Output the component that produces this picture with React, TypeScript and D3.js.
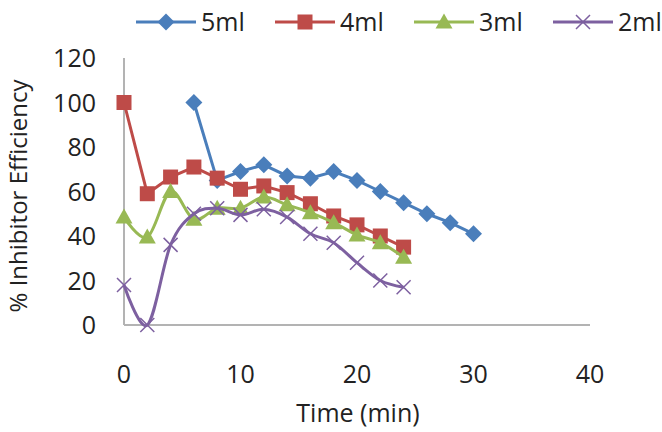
import { useRef, useEffect } from "react";
import * as d3 from "d3";

const time5 = [6, 8, 10, 12, 14, 16, 18, 20, 22, 24, 26, 28, 30];
const ml5 = [100, 65, 69, 72, 67, 66, 69, 65, 60, 55, 50, 46, 41];

const time4 = [0, 2, 4, 6, 8, 10, 12, 14, 16, 18, 20, 22, 24];
const ml4 = [100, 59, 66.5, 71, 66, 61, 62.5, 59.5, 54.5, 49, 45, 40, 35];

const time3 = [0, 2, 4, 6, 8, 10, 12, 14, 16, 18, 20, 22, 24];
const ml3 = [48.5, 39.5, 60, 47.5, 52.5, 52.5, 57.5, 54, 50.5, 46, 40.5, 37, 30.5];

const time2 = [0, 2, 4, 6, 8, 10, 12, 14, 16, 18, 20, 22, 24];
const ml2 = [18, 0, 36, 50, 52.5, 49.5, 52, 48.5, 41, 37, 28, 20, 17];

const xTicks = [0, 10, 20, 30, 40];
const yTicks = [0, 20, 40, 60, 80, 100, 120];

const series = [
  { name: "5ml", x: time5, y: ml5, color: "#4a7ebb", marker: "diamond", smooth: false },
  { name: "4ml", x: time4, y: ml4, color: "#be4b48", marker: "square", smooth: false },
  { name: "3ml", x: time3, y: ml3, color: "#98b954", marker: "triangle", smooth: true },
  { name: "2ml", x: time2, y: ml2, color: "#7d60a0", marker: "cross", smooth: true },
];

const FONT = "'Open Sans', sans-serif";
const FS = 25;

function drawMarker(g: any, kind: string, cx: number, cy: number, color: string) {
  if (kind === "diamond") {
    g.append("path")
      .attr("d", `M${cx},${cy - 8.5}L${cx + 8.5},${cy}L${cx},${cy + 8.5}L${cx - 8.5},${cy}Z`)
      .attr("fill", color);
  } else if (kind === "square") {
    g.append("rect")
      .attr("x", cx - 7.5)
      .attr("y", cy - 7.5)
      .attr("width", 15)
      .attr("height", 15)
      .attr("fill", color);
  } else if (kind === "triangle") {
    g.append("path")
      .attr("d", `M${cx},${cy - 8.5}L${cx + 8.5},${cy + 6.5}L${cx - 8.5},${cy + 6.5}Z`)
      .attr("fill", color);
  } else {
    g.append("path")
      .attr("d", `M${cx - 7},${cy - 7}L${cx + 7},${cy + 7}M${cx - 7},${cy + 7}L${cx + 7},${cy - 7}`)
      .attr("stroke", color)
      .attr("stroke-width", 1.5)
      .attr("fill", "none");
  }
}

export default function App() {
  const svgRef = useRef<SVGSVGElement>(null);

  useEffect(() => {
    if (!svgRef.current) return;
    const svg = d3.select(svgRef.current);
    svg.selectAll("*").remove();

    const x = d3.scaleLinear().domain([0, 40]).range([124, 590]);
    const y = d3.scaleLinear().domain([0, 120]).range([325, 58]);

    // axes lines
    svg.append("line")
      .attr("x1", x(0)).attr("x2", x(0))
      .attr("y1", y(120)).attr("y2", y(0))
      .attr("stroke", "#b3b3b3").attr("stroke-width", 2);
    svg.append("line")
      .attr("x1", x(0)).attr("x2", x(40))
      .attr("y1", y(0)).attr("y2", y(0))
      .attr("stroke", "#b3b3b3").attr("stroke-width", 2);

    // tick labels
    svg.selectAll(".ytick")
      .data(yTicks)
      .enter()
      .append("text")
      .attr("x", 96)
      .attr("y", (d) => y(d))
      .attr("dy", "0.36em")
      .attr("text-anchor", "end")
      .attr("font-family", FONT)
      .attr("font-size", FS)
      .attr("fill", "#222")
      .text((d) => d);

    svg.selectAll(".xtick")
      .data(xTicks)
      .enter()
      .append("text")
      .attr("x", (d) => x(d))
      .attr("y", 374)
      .attr("dy", "0.36em")
      .attr("text-anchor", "middle")
      .attr("font-family", FONT)
      .attr("font-size", FS)
      .attr("fill", "#222")
      .text((d) => d);

    // axis titles
    svg.append("text")
      .attr("transform", `translate(27, 196) rotate(-90)`)
      .attr("text-anchor", "middle")
      .attr("font-family", FONT)
      .attr("font-size", 24)
      .attr("fill", "#222")
      .text("% Inhibitor Efficiency");
    svg.append("text")
      .attr("x", 358)
      .attr("y", 422)
      .attr("text-anchor", "middle")
      .attr("font-family", FONT)
      .attr("font-size", FS)
      .attr("fill", "#222")
      .text("Time (min)");

    // series
    series.forEach((s) => {
      const pts: [number, number][] = s.x.map((t, i) => [t, s.y[i]]);
      const line = d3.line<[number, number]>()
        .x((d) => x(d[0]))
        .y((d) => y(d[1]))
        .curve(s.smooth ? d3.curveCatmullRom.alpha(0) : d3.curveLinear);
      const g = svg.append("g");
      g.append("path")
        .attr("d", line(pts))
        .attr("fill", "none")
        .attr("stroke", s.color)
        .attr("stroke-width", 3);
      pts.forEach((p) => drawMarker(g, s.marker, x(p[0]), y(p[1]), s.color));
    });

    // legend
    series.forEach((s, i) => {
      const lx = 136 + i * 139;
      const ly = 22;
      const g = svg.append("g");
      g.append("line")
        .attr("x1", lx).attr("x2", lx + 60)
        .attr("y1", ly).attr("y2", ly)
        .attr("stroke", s.color).attr("stroke-width", 3);
      drawMarker(g, s.marker, lx + 30, ly, s.color);
      g.append("text")
        .attr("x", lx + 65)
        .attr("y", ly)
        .attr("dy", "0.36em")
        .attr("font-family", FONT)
        .attr("font-size", FS)
        .attr("fill", "#222")
        .text(s.name);
    });
  }, []);

  return (
    <svg
      ref={svgRef}
      width={662}
      height={432}
      style={{ position: "absolute", left: 0, top: 0, background: "#fff" }}
    />
  );
}
